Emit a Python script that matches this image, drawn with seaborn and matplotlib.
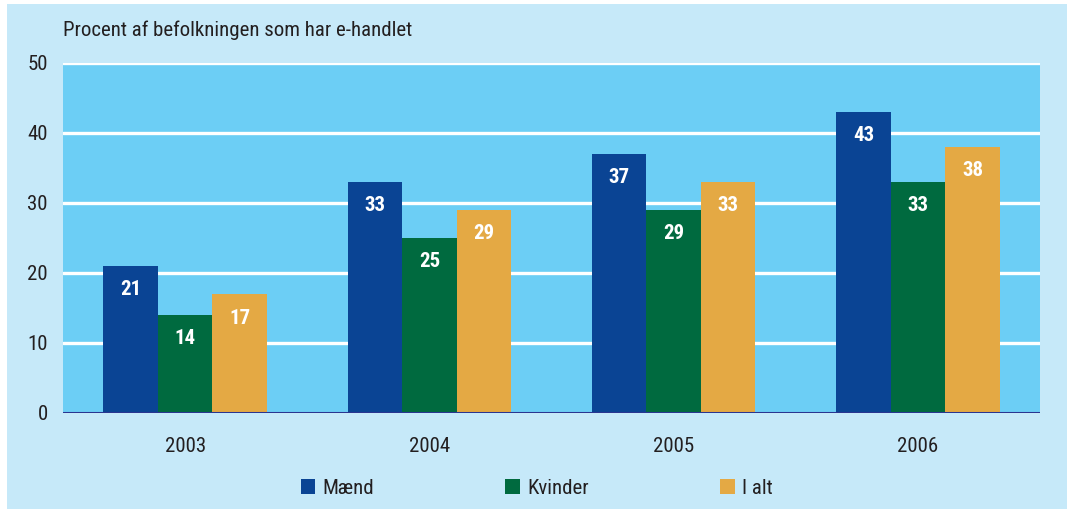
import matplotlib.pyplot as plt
import matplotlib.patches as mpatches
from matplotlib import font_manager
import seaborn as sns
import pandas as pd

# Data
aar = ["2003", "2004", "2005", "2006"]
maend = [21, 33, 37, 43]
kvinder = [14, 25, 29, 33]
i_alt = [17, 29, 33, 38]
serier = ["Mænd", "Kvinder", "I alt"]
farver = ["#0a4494", "#006a3f", "#e4a944"]

df = pd.DataFrame({
    "aar": aar * 3,
    "serie": [s for s in serier for _ in aar],
    "vaerdi": maend + kvinder + i_alt,
})

sns.set_theme(style="white")
# a narrow font if one is around
navne = {f.name for f in font_manager.fontManager.ttflist}
smalle = ["Liberation Sans Narrow", "DejaVu Sans Condensed", "Roboto Condensed",
          "Open Sans Condensed", "Lato", "Roboto"]
valgt = next((n for n in smalle if n in navne), "DejaVu Sans")
plt.rcParams["font.family"] = [valgt, "DejaVu Sans"]
tekst = "#231f20"
bg = "#c6e9f9"

fig = plt.figure(figsize=(10.67, 5.09), dpi=100, facecolor=bg)
# thin white border at left and top
fig.patches.append(mpatches.Rectangle((0, 0), 7 / 1067, 1, transform=fig.transFigure,
                                      facecolor="white", edgecolor="none", zorder=-10))
fig.patches.append(mpatches.Rectangle((0, 1 - 4 / 509), 1, 4 / 509, transform=fig.transFigure,
                                      facecolor="white", edgecolor="none", zorder=-10))

ax = fig.add_axes([63 / 1067, 1 - 413 / 509, (1040 - 63) / 1067, 350 / 509])
ax.set_facecolor("#6ccef5")

sns.barplot(data=df, x="aar", y="vaerdi", hue="serie", hue_order=serier,
            palette=farver, width=0.67, saturation=1, ax=ax, legend=False,
            edgecolor="none", linewidth=0)

ax.set_ylim(0, 50)
ax.set_xlim(-0.5, 3.5)
ax.set_yticks(range(0, 51, 10))
for y in range(10, 51, 10):
    ax.axhline(y, color="white", linewidth=2.4, zorder=0.5)
ax.axhline(0, color="#2a3590", linewidth=2.2, zorder=5)

for sp in ax.spines.values():
    sp.set_visible(False)
ax.tick_params(axis="both", length=0, labelsize=15, colors=tekst)
ax.tick_params(axis="y", pad=11)
ax.tick_params(axis="x", pad=17)
ax.set_xlabel("")
ax.set_ylabel("")

# value labels inside bars
for p in ax.patches:
    h = p.get_height()
    if h > 0:
        ax.annotate(f"{h:.0f}", (p.get_x() + p.get_width() / 2, h),
                    xytext=(0, -24), textcoords="offset pixels",
                    ha="center", va="center", color="white",
                    fontsize=15, fontweight="bold", zorder=6)

fig.text(63 / 1067, 1 - 30 / 509, "Procent af befolkningen som har e-handlet",
         fontsize=15, color=tekst, va="center", ha="left")

handles = [mpatches.Patch(facecolor=c, edgecolor="none") for c in farver]
fig.legend(handles, serier, loc="center", bbox_to_anchor=(0.503, 1 - 488 / 509),
           ncol=3, frameon=False, fontsize=15, handlelength=0.7,
           handleheight=0.7, handletextpad=0.35, columnspacing=6.3,
           labelcolor=tekst)

fig.savefig("out.png", dpi=100, facecolor=fig.get_facecolor())
